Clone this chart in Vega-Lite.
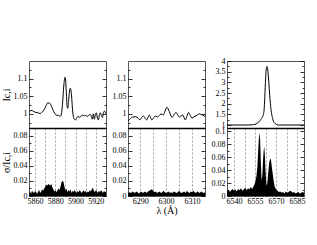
{
  "$schema": "https://vega.github.io/schema/vega-lite/v6.json",
  "padding": {"left": 0, "top": 56, "right": 2, "bottom": 2},
  "background": "white",
  "config": {
    "font": "Liberation Serif",
    "view": {"stroke": "#555", "strokeWidth": 1},
    "axis": {"labelFont": "Liberation Serif", "labelFontSize": 8, "labelColor": "black", "titleFont": "Liberation Serif", "titleFontSize": 10, "titleFontWeight": "normal", "titleColor": "black", "tickColor": "black", "tickWidth": 0.8, "gridColor": "#888", "gridDash": [2, 2], "gridWidth": 0.8, "domain": false}
  },
  "spacing": 4,
  "datasets": {
    "t1": [
      {"w": 5854.3, "v": 1.006}, {"w": 5856, "v": 1.010}, {"w": 5857.5, "v": 1.009}, {"w": 5859, "v": 1.006}, {"w": 5861, "v": 1.004},
      {"w": 5863, "v": 1.003}, {"w": 5865, "v": 1.001}, {"w": 5866.5, "v": 1.004}, {"w": 5868, "v": 1.008}, {"w": 5869.5, "v": 1.015},
      {"w": 5871, "v": 1.024}, {"w": 5872.5, "v": 1.031}, {"w": 5874, "v": 1.031}, {"w": 5875.5, "v": 1.026}, {"w": 5877, "v": 1.016},
      {"w": 5878.5, "v": 1.006}, {"w": 5880, "v": 0.999}, {"w": 5881.5, "v": 0.996}, {"w": 5883, "v": 0.996}, {"w": 5884.5, "v": 0.993},
      {"w": 5885.5, "v": 0.995}, {"w": 5886.5, "v": 1.010}, {"w": 5887.5, "v": 1.045}, {"w": 5888.5, "v": 1.085}, {"w": 5889.5, "v": 1.104},
      {"w": 5890.3, "v": 1.090}, {"w": 5891, "v": 1.050}, {"w": 5891.7, "v": 1.020}, {"w": 5892.3, "v": 1.016}, {"w": 5893, "v": 1.035},
      {"w": 5893.8, "v": 1.060}, {"w": 5894.7, "v": 1.073}, {"w": 5895.5, "v": 1.065}, {"w": 5896.3, "v": 1.040}, {"w": 5897, "v": 1.010},
      {"w": 5898, "v": 0.990}, {"w": 5899, "v": 0.984}, {"w": 5900, "v": 0.983}, {"w": 5901, "v": 0.988}, {"w": 5902.5, "v": 0.993},
      {"w": 5904, "v": 0.990}, {"w": 5905.5, "v": 0.994}, {"w": 5907, "v": 0.997}, {"w": 5908.5, "v": 0.994}, {"w": 5910, "v": 0.996},
      {"w": 5911.5, "v": 0.993}, {"w": 5913, "v": 0.996}, {"w": 5914.5, "v": 0.999}, {"w": 5915.5, "v": 0.992}, {"w": 5916.5, "v": 0.985},
      {"w": 5917.5, "v": 1.000}, {"w": 5918.5, "v": 0.985}, {"w": 5919.5, "v": 0.998}, {"w": 5920.5, "v": 1.003}, {"w": 5921.5, "v": 0.988},
      {"w": 5922.5, "v": 0.983}, {"w": 5923.5, "v": 0.998}, {"w": 5924.5, "v": 1.003}, {"w": 5925.5, "v": 0.995}, {"w": 5926.5, "v": 0.990},
      {"w": 5927.5, "v": 1.004}, {"w": 5928.5, "v": 1.008}, {"w": 5929.5, "v": 1.003}, {"w": 5930, "v": 1.000}
    ],
    "b1": [
      {"w": 5854, "s": 0.004}, {"w": 5855, "s": 0.006}, {"w": 5856, "s": 0.003}, {"w": 5857, "s": 0.007}, {"w": 5858, "s": 0.005},
      {"w": 5859, "s": 0.004}, {"w": 5860, "s": 0.007}, {"w": 5861, "s": 0.005}, {"w": 5862, "s": 0.003}, {"w": 5863, "s": 0.006},
      {"w": 5864, "s": 0.008}, {"w": 5865, "s": 0.004}, {"w": 5866, "s": 0.006}, {"w": 5867, "s": 0.009}, {"w": 5868, "s": 0.007},
      {"w": 5869, "s": 0.010}, {"w": 5870, "s": 0.012}, {"w": 5871, "s": 0.015}, {"w": 5872, "s": 0.014}, {"w": 5873, "s": 0.016},
      {"w": 5874, "s": 0.015}, {"w": 5875, "s": 0.014}, {"w": 5876, "s": 0.016}, {"w": 5877, "s": 0.012}, {"w": 5878, "s": 0.009},
      {"w": 5879, "s": 0.006}, {"w": 5880, "s": 0.008}, {"w": 5881, "s": 0.005}, {"w": 5882, "s": 0.007}, {"w": 5883, "s": 0.010},
      {"w": 5884, "s": 0.008}, {"w": 5885, "s": 0.012}, {"w": 5886, "s": 0.018}, {"w": 5887, "s": 0.020}, {"w": 5888, "s": 0.019},
      {"w": 5889, "s": 0.012}, {"w": 5890, "s": 0.007}, {"w": 5891, "s": 0.010}, {"w": 5892, "s": 0.005}, {"w": 5893, "s": 0.008},
      {"w": 5894, "s": 0.006}, {"w": 5895, "s": 0.009}, {"w": 5896, "s": 0.004}, {"w": 5897, "s": 0.007}, {"w": 5898, "s": 0.005},
      {"w": 5899, "s": 0.008}, {"w": 5900, "s": 0.006}, {"w": 5901, "s": 0.004}, {"w": 5902, "s": 0.007}, {"w": 5903, "s": 0.005},
      {"w": 5904, "s": 0.008}, {"w": 5905, "s": 0.006}, {"w": 5906, "s": 0.004}, {"w": 5907, "s": 0.006}, {"w": 5908, "s": 0.008},
      {"w": 5909, "s": 0.005}, {"w": 5910, "s": 0.007}, {"w": 5911, "s": 0.004}, {"w": 5912, "s": 0.006}, {"w": 5913, "s": 0.005},
      {"w": 5914, "s": 0.008}, {"w": 5915, "s": 0.006}, {"w": 5916, "s": 0.009}, {"w": 5917, "s": 0.011}, {"w": 5918, "s": 0.007},
      {"w": 5919, "s": 0.005}, {"w": 5920, "s": 0.008}, {"w": 5921, "s": 0.006}, {"w": 5922, "s": 0.004}, {"w": 5923, "s": 0.007},
      {"w": 5924, "s": 0.005}, {"w": 5925, "s": 0.008}, {"w": 5926, "s": 0.006}, {"w": 5927, "s": 0.004}, {"w": 5928, "s": 0.007},
      {"w": 5929, "s": 0.005}, {"w": 5930, "s": 0.006}
    ],
    "t2": [
      {"w": 6285.3, "v": 0.980}, {"w": 6286, "v": 0.985}, {"w": 6287, "v": 0.991}, {"w": 6288.3, "v": 0.992}, {"w": 6289.2, "v": 0.988},
      {"w": 6289.9, "v": 0.983}, {"w": 6290.5, "v": 0.989}, {"w": 6291.2, "v": 0.994}, {"w": 6291.9, "v": 0.988}, {"w": 6292.5, "v": 0.983},
      {"w": 6293, "v": 0.990}, {"w": 6293.5, "v": 0.997}, {"w": 6294, "v": 0.990}, {"w": 6294.5, "v": 0.983}, {"w": 6295.2, "v": 0.989},
      {"w": 6295.8, "v": 0.994}, {"w": 6296.7, "v": 0.991}, {"w": 6297.4, "v": 0.996}, {"w": 6298, "v": 1.000}, {"w": 6298.9, "v": 0.997},
      {"w": 6299.6, "v": 1.008}, {"w": 6300.3, "v": 1.019}, {"w": 6301.2, "v": 1.007}, {"w": 6302.3, "v": 0.990}, {"w": 6303, "v": 0.997},
      {"w": 6303.8, "v": 1.004}, {"w": 6304.5, "v": 0.997}, {"w": 6305.1, "v": 0.991}, {"w": 6305.8, "v": 0.995}, {"w": 6306.4, "v": 0.997},
      {"w": 6307.4, "v": 0.983}, {"w": 6308, "v": 0.993}, {"w": 6308.7, "v": 1.004}, {"w": 6309.3, "v": 0.996}, {"w": 6310, "v": 0.988},
      {"w": 6310.8, "v": 0.992}, {"w": 6311.5, "v": 0.994}, {"w": 6312.2, "v": 0.998}, {"w": 6312.8, "v": 1.000}, {"w": 6313.5, "v": 0.998},
      {"w": 6314.1, "v": 0.997}, {"w": 6315, "v": 0.992}
    ],
    "b2": [
      {"w": 6285.3, "s": 0.004}, {"w": 6286, "s": 0.005}, {"w": 6286.5, "s": 0.004}, {"w": 6287, "s": 0.006}, {"w": 6287.5, "s": 0.005},
      {"w": 6288, "s": 0.004}, {"w": 6288.5, "s": 0.006}, {"w": 6289, "s": 0.005}, {"w": 6289.5, "s": 0.003}, {"w": 6290, "s": 0.005},
      {"w": 6290.5, "s": 0.006}, {"w": 6291, "s": 0.004}, {"w": 6291.5, "s": 0.005}, {"w": 6292, "s": 0.006}, {"w": 6292.5, "s": 0.004},
      {"w": 6293, "s": 0.006}, {"w": 6293.5, "s": 0.007}, {"w": 6294, "s": 0.008}, {"w": 6294.5, "s": 0.009}, {"w": 6295, "s": 0.007},
      {"w": 6295.5, "s": 0.005}, {"w": 6296, "s": 0.006}, {"w": 6296.5, "s": 0.004}, {"w": 6297, "s": 0.005}, {"w": 6297.5, "s": 0.006},
      {"w": 6298, "s": 0.004}, {"w": 6298.5, "s": 0.005}, {"w": 6299, "s": 0.007}, {"w": 6299.5, "s": 0.005}, {"w": 6300, "s": 0.004},
      {"w": 6300.5, "s": 0.005}, {"w": 6301, "s": 0.006}, {"w": 6301.5, "s": 0.004}, {"w": 6302, "s": 0.005}, {"w": 6302.5, "s": 0.004},
      {"w": 6303, "s": 0.006}, {"w": 6303.5, "s": 0.005}, {"w": 6304, "s": 0.004}, {"w": 6304.5, "s": 0.005}, {"w": 6305, "s": 0.007},
      {"w": 6305.5, "s": 0.005}, {"w": 6306, "s": 0.004}, {"w": 6306.5, "s": 0.005}, {"w": 6307, "s": 0.006}, {"w": 6307.5, "s": 0.004},
      {"w": 6308, "s": 0.007}, {"w": 6308.5, "s": 0.005}, {"w": 6309, "s": 0.004}, {"w": 6309.5, "s": 0.006}, {"w": 6310, "s": 0.005},
      {"w": 6310.5, "s": 0.007}, {"w": 6311, "s": 0.005}, {"w": 6311.5, "s": 0.004}, {"w": 6312, "s": 0.006}, {"w": 6312.5, "s": 0.005},
      {"w": 6313, "s": 0.004}, {"w": 6313.5, "s": 0.006}, {"w": 6314, "s": 0.005}, {"w": 6314.5, "s": 0.004}, {"w": 6315, "s": 0.005}
    ],
    "t3": [
      {"w": 6535, "v": 1.0}, {"w": 6540, "v": 1.0}, {"w": 6545, "v": 1.0}, {"w": 6550, "v": 1.0}, {"w": 6553, "v": 1.01},
      {"w": 6555, "v": 1.03}, {"w": 6556.5, "v": 1.08}, {"w": 6557.9, "v": 1.15}, {"w": 6559, "v": 1.25}, {"w": 6560.2, "v": 1.36},
      {"w": 6561, "v": 1.5}, {"w": 6561.5, "v": 1.7}, {"w": 6562, "v": 2.3}, {"w": 6562.6, "v": 3.2}, {"w": 6563.2, "v": 3.7},
      {"w": 6563.6, "v": 3.75}, {"w": 6564, "v": 3.65}, {"w": 6564.5, "v": 3.3}, {"w": 6565, "v": 2.9}, {"w": 6565.5, "v": 2.4},
      {"w": 6566, "v": 2.0}, {"w": 6566.7, "v": 1.6}, {"w": 6567.4, "v": 1.35}, {"w": 6568.2, "v": 1.18}, {"w": 6569.3, "v": 1.07},
      {"w": 6570.5, "v": 1.02}, {"w": 6572, "v": 1.0}, {"w": 6575, "v": 1.0}, {"w": 6580, "v": 1.0}, {"w": 6585, "v": 1.0}, {"w": 6590, "v": 1.0}
    ],
    "b3": [
      {"w": 6535, "s": 0.007}, {"w": 6536, "s": 0.010}, {"w": 6537, "s": 0.006}, {"w": 6538, "s": 0.009}, {"w": 6539, "s": 0.011},
      {"w": 6540, "s": 0.008}, {"w": 6541, "s": 0.010}, {"w": 6542, "s": 0.007}, {"w": 6543, "s": 0.011}, {"w": 6544, "s": 0.009},
      {"w": 6545, "s": 0.012}, {"w": 6546, "s": 0.008}, {"w": 6547, "s": 0.010}, {"w": 6548, "s": 0.013}, {"w": 6549, "s": 0.009},
      {"w": 6550, "s": 0.012}, {"w": 6551, "s": 0.010}, {"w": 6552, "s": 0.014}, {"w": 6553, "s": 0.011}, {"w": 6554, "s": 0.015},
      {"w": 6555, "s": 0.020}, {"w": 6556, "s": 0.030}, {"w": 6556.7, "s": 0.045}, {"w": 6557.3, "s": 0.070}, {"w": 6557.8, "s": 0.090},
      {"w": 6558.2, "s": 0.098}, {"w": 6558.7, "s": 0.085}, {"w": 6559.2, "s": 0.050}, {"w": 6559.7, "s": 0.025}, {"w": 6560.2, "s": 0.030},
      {"w": 6560.7, "s": 0.055}, {"w": 6561.2, "s": 0.070}, {"w": 6561.6, "s": 0.076}, {"w": 6562, "s": 0.065}, {"w": 6562.5, "s": 0.040},
      {"w": 6563, "s": 0.020}, {"w": 6563.5, "s": 0.015}, {"w": 6564, "s": 0.025}, {"w": 6564.6, "s": 0.040}, {"w": 6565.2, "s": 0.052},
      {"w": 6565.8, "s": 0.058}, {"w": 6566.4, "s": 0.056}, {"w": 6567, "s": 0.045}, {"w": 6567.6, "s": 0.035}, {"w": 6568.2, "s": 0.025},
      {"w": 6569, "s": 0.015}, {"w": 6570, "s": 0.010}, {"w": 6571, "s": 0.008}, {"w": 6572, "s": 0.006}, {"w": 6573, "s": 0.007},
      {"w": 6574, "s": 0.005}, {"w": 6575, "s": 0.006}, {"w": 6576, "s": 0.004}, {"w": 6577, "s": 0.007}, {"w": 6578, "s": 0.005},
      {"w": 6579, "s": 0.006}, {"w": 6580, "s": 0.008}, {"w": 6581, "s": 0.007}, {"w": 6582, "s": 0.005}, {"w": 6583, "s": 0.006},
      {"w": 6584, "s": 0.004}, {"w": 6585, "s": 0.005}, {"w": 6586, "s": 0.006}, {"w": 6587, "s": 0.004}, {"w": 6588, "s": 0.005},
      {"w": 6589, "s": 0.006}, {"w": 6590, "s": 0.005}
    ]
  },
  "hconcat": [
    {
      "bounds": "flush",
      "spacing": 0,
      "vconcat": [
        {
          "width": 77, "height": 67,
          "data": {"name": "t1"},
          "layer": [
            {
              "mark": {"type": "line", "color": "black", "strokeWidth": 1, "clip": true, "interpolate": "monotone"},
              "encoding": {
                "x": {"field": "w", "type": "quantitative", "scale": {"domain": [5854, 5930], "nice": false, "zero": false},
                  "axis": {"values": [5860, 5870, 5880, 5890, 5900, 5910, 5920], "grid": true, "labels": false, "ticks": false, "title": null}},
                "y": {"field": "v", "type": "quantitative", "scale": {"domain": [0.96, 1.15], "nice": false, "zero": false},
                  "axis": {"title": "Ic,i", "titlePadding": 2, "grid": false, "values": [0.975, 1, 1.025, 1.05, 1.075, 1.1, 1.125],
                    "labelExpr": "abs(datum.value*20 - round(datum.value*20)) < 0.001 ? format(datum.value, '~g') : ''",
                    "tickSize": {"condition": {"test": "abs(datum.value*20 - round(datum.value*20)) < 0.001", "value": -4}, "value": -2},
                    "labelPadding": 6}}
              }
            },
            {
              "mark": {"type": "line", "opacity": 0},
              "encoding": {
                "x": {"field": "w", "type": "quantitative", "axis": null},
                "y": {"field": "v", "type": "quantitative",
                  "axis": {"orient": "right", "labels": false, "title": null, "grid": false, "values": [0.975, 1, 1.025, 1.05, 1.075, 1.1, 1.125],
                    "tickSize": {"condition": {"test": "abs(datum.value*20 - round(datum.value*20)) < 0.001", "value": -4}, "value": -2}}}
              }
            }
          ],
          "resolve": {"axis": {"y": "independent"}}
        },
        {
          "width": 77, "height": 68,
          "data": {"name": "b1"},
          "layer": [
            {
              "mark": {"type": "area", "color": "black", "clip": true},
              "encoding": {
                "x": {"field": "w", "type": "quantitative", "scale": {"domain": [5854, 5930], "nice": false, "zero": false},
                  "axis": {"values": [5860, 5870, 5880, 5890, 5900, 5910, 5920], "grid": true, "format": "d", "title": null,
                    "labelExpr": "datum.value % 20 == 0 ? datum.label : ''", "tickSize": -3, "labelPadding": 4, "labelFlush": false}},
                "y": {"field": "s", "type": "quantitative", "scale": {"domain": [0, 0.0905], "nice": false},
                  "axis": {"title": "σ/Ic,i", "titlePadding": 2, "grid": false, "values": [0, 0.01, 0.02, 0.03, 0.04, 0.05, 0.06, 0.07, 0.08, 0.09],
                    "labelExpr": "abs(datum.value*50 - round(datum.value*50)) < 0.001 ? format(datum.value, '~g') : ''",
                    "tickSize": {"condition": {"test": "abs(datum.value*50 - round(datum.value*50)) < 0.001", "value": -4}, "value": -2},
                    "labelPadding": 6}}
              }
            },
            {
              "mark": {"type": "area", "opacity": 0},
              "encoding": {
                "x": {"field": "w", "type": "quantitative",
                  "axis": {"orient": "top", "domain": true, "domainColor": "black", "domainWidth": 1.5, "ticks": false, "labels": false, "grid": false, "title": null}},
                "y": {"field": "s", "type": "quantitative",
                  "axis": {"orient": "right", "labels": false, "title": null, "grid": false, "values": [0, 0.01, 0.02, 0.03, 0.04, 0.05, 0.06, 0.07, 0.08, 0.09],
                    "tickSize": {"condition": {"test": "abs(datum.value*50 - round(datum.value*50)) < 0.001", "value": -4}, "value": -2}}}
              }
            }
          ],
          "resolve": {"axis": {"x": "independent", "y": "independent"}}
        }
      ]
    },
    {
      "bounds": "flush",
      "spacing": 0,
      "vconcat": [
        {
          "width": 77, "height": 67,
          "data": {"name": "t2"},
          "layer": [
            {
              "mark": {"type": "line", "color": "black", "strokeWidth": 1, "clip": true, "interpolate": "monotone"},
              "encoding": {
                "x": {"field": "w", "type": "quantitative", "scale": {"domain": [6285.3, 6315], "nice": false, "zero": false},
                  "axis": {"values": [6290, 6295, 6300, 6305, 6310], "grid": true, "labels": false, "ticks": false, "title": null}},
                "y": {"field": "v", "type": "quantitative", "scale": {"domain": [0.96, 1.15], "nice": false, "zero": false},
                  "axis": {"title": null, "grid": false, "values": [0.975, 1, 1.025, 1.05, 1.075, 1.1, 1.125],
                    "labelExpr": "abs(datum.value*20 - round(datum.value*20)) < 0.001 ? format(datum.value, '~g') : ''",
                    "tickSize": {"condition": {"test": "abs(datum.value*20 - round(datum.value*20)) < 0.001", "value": -4}, "value": -2},
                    "labelPadding": 6}}
              }
            },
            {
              "mark": {"type": "line", "opacity": 0},
              "encoding": {
                "x": {"field": "w", "type": "quantitative", "axis": null},
                "y": {"field": "v", "type": "quantitative",
                  "axis": {"orient": "right", "labels": false, "title": null, "grid": false, "values": [0.975, 1, 1.025, 1.05, 1.075, 1.1, 1.125],
                    "tickSize": {"condition": {"test": "abs(datum.value*20 - round(datum.value*20)) < 0.001", "value": -4}, "value": -2}}}
              }
            }
          ],
          "resolve": {"axis": {"y": "independent"}}
        },
        {
          "width": 77, "height": 68,
          "data": {"name": "b2"},
          "layer": [
            {
              "mark": {"type": "area", "color": "black", "clip": true},
              "encoding": {
                "x": {"field": "w", "type": "quantitative", "scale": {"domain": [6285.3, 6315], "nice": false, "zero": false},
                  "axis": {"values": [6290, 6295, 6300, 6305, 6310], "grid": true, "format": "d", "title": "λ (Å)", "titlePadding": 0,
                    "labelExpr": "datum.value % 10 == 0 ? datum.label : ''", "tickSize": -3, "labelPadding": 4, "labelFlush": false}},
                "y": {"field": "s", "type": "quantitative", "scale": {"domain": [0, 0.0905], "nice": false},
                  "axis": {"title": null, "grid": false, "values": [0, 0.01, 0.02, 0.03, 0.04, 0.05, 0.06, 0.07, 0.08, 0.09],
                    "labelExpr": "abs(datum.value*50 - round(datum.value*50)) < 0.001 ? format(datum.value, '~g') : ''",
                    "tickSize": {"condition": {"test": "abs(datum.value*50 - round(datum.value*50)) < 0.001", "value": -4}, "value": -2},
                    "labelPadding": 6}}
              }
            },
            {
              "mark": {"type": "area", "opacity": 0},
              "encoding": {
                "x": {"field": "w", "type": "quantitative",
                  "axis": {"orient": "top", "domain": true, "domainColor": "black", "domainWidth": 1.5, "ticks": false, "labels": false, "grid": false, "title": null}},
                "y": {"field": "s", "type": "quantitative",
                  "axis": {"orient": "right", "labels": false, "title": null, "grid": false, "values": [0, 0.01, 0.02, 0.03, 0.04, 0.05, 0.06, 0.07, 0.08, 0.09],
                    "tickSize": {"condition": {"test": "abs(datum.value*50 - round(datum.value*50)) < 0.001", "value": -4}, "value": -2}}}
              }
            }
          ],
          "resolve": {"axis": {"x": "independent", "y": "independent"}}
        }
      ]
    },
    {
      "bounds": "flush",
      "spacing": 0,
      "vconcat": [
        {
          "width": 77, "height": 67,
          "data": {"name": "t3"},
          "layer": [
            {
              "mark": {"type": "line", "color": "black", "strokeWidth": 1, "clip": true, "interpolate": "monotone"},
              "encoding": {
                "x": {"field": "w", "type": "quantitative", "scale": {"domain": [6535, 6590], "nice": false, "zero": false},
                  "axis": {"values": [6540, 6547.5, 6555, 6562.5, 6570, 6577.5, 6585], "grid": true, "labels": false, "ticks": false, "title": null}},
                "y": {"field": "v", "type": "quantitative", "scale": {"domain": [0.86, 4], "nice": false, "zero": false},
                  "axis": {"title": null, "grid": false, "values": [1, 1.25, 1.5, 1.75, 2, 2.25, 2.5, 2.75, 3, 3.25, 3.5, 3.75, 4],
                    "labelExpr": "abs(datum.value*2 - round(datum.value*2)) < 0.001 ? format(datum.value, '~g') : ''",
                    "tickSize": {"condition": {"test": "abs(datum.value*2 - round(datum.value*2)) < 0.001", "value": -4}, "value": -2},
                    "labelPadding": 6}}
              }
            },
            {
              "mark": {"type": "line", "opacity": 0},
              "encoding": {
                "x": {"field": "w", "type": "quantitative", "axis": null},
                "y": {"field": "v", "type": "quantitative",
                  "axis": {"orient": "right", "labels": false, "title": null, "grid": false, "values": [1, 1.25, 1.5, 1.75, 2, 2.25, 2.5, 2.75, 3, 3.25, 3.5, 3.75, 4],
                    "tickSize": {"condition": {"test": "abs(datum.value*2 - round(datum.value*2)) < 0.001", "value": -4}, "value": -2}}}
              }
            }
          ],
          "resolve": {"axis": {"y": "independent"}}
        },
        {
          "width": 77, "height": 68,
          "data": {"name": "b3"},
          "layer": [
            {
              "mark": {"type": "area", "color": "black", "clip": true},
              "encoding": {
                "x": {"field": "w", "type": "quantitative", "scale": {"domain": [6535, 6590], "nice": false, "zero": false},
                  "axis": {"values": [6540, 6547.5, 6555, 6562.5, 6570, 6577.5, 6585], "grid": true, "format": "d", "title": null,
                    "labelExpr": "datum.value % 15 == 0 ? datum.label : ''", "tickSize": -3, "labelPadding": 4, "labelFlush": false}},
                "y": {"field": "s", "type": "quantitative", "scale": {"domain": [0, 0.105], "nice": false},
                  "axis": {"title": null, "grid": false, "values": [0, 0.01, 0.02, 0.03, 0.04, 0.05, 0.06, 0.07, 0.08, 0.09, 0.1],
                    "labelExpr": "abs(datum.value*50 - round(datum.value*50)) < 0.001 ? format(datum.value, '~g') : ''",
                    "tickSize": {"condition": {"test": "abs(datum.value*50 - round(datum.value*50)) < 0.001", "value": -4}, "value": -2},
                    "labelPadding": 6}}
              }
            },
            {
              "mark": {"type": "area", "opacity": 0},
              "encoding": {
                "x": {"field": "w", "type": "quantitative",
                  "axis": {"orient": "top", "domain": true, "domainColor": "black", "domainWidth": 1.5, "ticks": false, "labels": false, "grid": false, "title": null}},
                "y": {"field": "s", "type": "quantitative",
                  "axis": {"orient": "right", "labels": false, "title": null, "grid": false, "values": [0, 0.01, 0.02, 0.03, 0.04, 0.05, 0.06, 0.07, 0.08, 0.09, 0.1],
                    "tickSize": {"condition": {"test": "abs(datum.value*50 - round(datum.value*50)) < 0.001", "value": -4}, "value": -2}}}
              }
            }
          ],
          "resolve": {"axis": {"x": "independent", "y": "independent"}}
        }
      ]
    }
  ]
}
